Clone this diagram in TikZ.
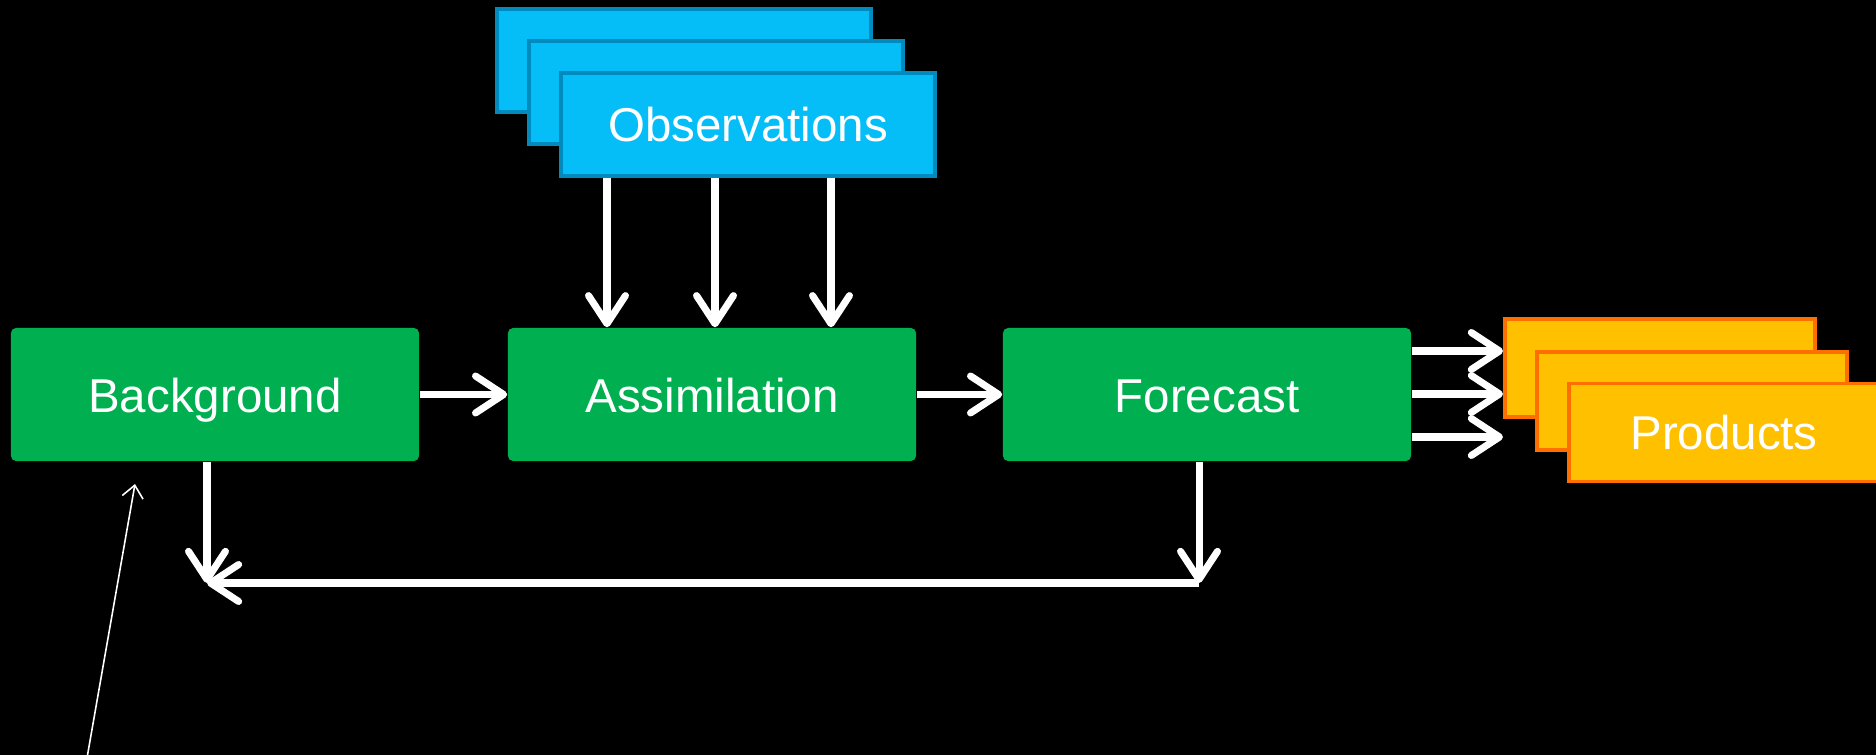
\documentclass[tikz,border=0pt]{standalone}
\usepackage{fontspec}
\setmainfont{Liberation Sans}
\usetikzlibrary{arrows.meta}

\definecolor{boxgreen}{RGB}{0,176,80}
\definecolor{obsfill}{RGB}{5,190,248}
\definecolor{obsline}{RGB}{0,138,190}
\definecolor{prodfill}{RGB}{255,192,0}
\definecolor{prodline}{RGB}{255,110,0}

\begin{document}
\begin{tikzpicture}[x=0.01cm, y=-0.01cm,
    stage/.style={rectangle, rounded corners=1.5pt, fill=boxgreen, text=white,
      minimum width=4.08cm, minimum height=1.33cm, text height=10.4pt, text depth=0pt,
      font=\fontsize{13.5}{16}\selectfont},
    obsbox/.style={rectangle, draw=obsline, line width=1.1pt, fill=obsfill, text=white,
      minimum width=3.74cm, minimum height=1.03cm, font=\fontsize{13.5}{16}\selectfont},
    prodbox/.style={rectangle, draw=prodline, line width=1.1pt, fill=prodfill, text=white,
      minimum width=3.10cm, minimum height=0.98cm, font=\fontsize{13.5}{16}\selectfont},
    bigarrow/.style={white, line width=2pt, -{Straight Barb[length=8pt,width=10.5pt,round]}},
    thinarrow/.style={white, line width=0.45pt, -{Straight Barb[length=3.5pt,width=6pt]}}]
  \fill[black] (0,0) rectangle (1876,755);
  \useasboundingbox (0,0) rectangle (1876,755);

  % Main stages
  \node[stage] (bg) at (215,394.5) {Background};
  \node[stage] (assim) at (712,394.5) {Assimilation};
  \node[stage] (fcst) at (1207,394.5) {Forecast};

  % Observations stack
  \node[obsbox] (obs1) at (684,60.5) {};
  \node[obsbox] (obs2) at (716,92.5) {};
  \node[obsbox] (obs3) at (748,124.5) {Observations};

  % Products stack
  \node[prodbox] (prod1) at (1660,368) {};
  \node[prodbox] (prod2) at (1692,401) {};
  \node[prodbox] (prod3) at (1724,432.5) {Products};

  % Loop corners and pointer
  \coordinate (loopL) at (207,583);
  \coordinate (loopR) at (1199,583);
  \coordinate (ptrtail) at (87,758);
  \coordinate (ptrtip) at (135,484);

  % Flow arrows
  \draw[bigarrow] (bg) -- (assim);
  \draw[bigarrow] (assim) -- (fcst);
  \foreach \x in {607,715,831}
    \draw[bigarrow] (obs3.south -| \x,0) -- (assim.north -| \x,0);
  \foreach \y in {351,394,437}
    \draw[bigarrow] (fcst.east |- 0,\y) -- (prod1.west |- 0,\y);

  % Feedback loop
  \draw[bigarrow] (bg.south -| loopL) -- (loopL);
  \draw[bigarrow] (fcst.south -| loopR) -- (loopR);
  \draw[bigarrow] (loopR) -- (loopL);

  % Pointer
  \draw[thinarrow] (ptrtail) -- (ptrtip);
\end{tikzpicture}
\end{document}
